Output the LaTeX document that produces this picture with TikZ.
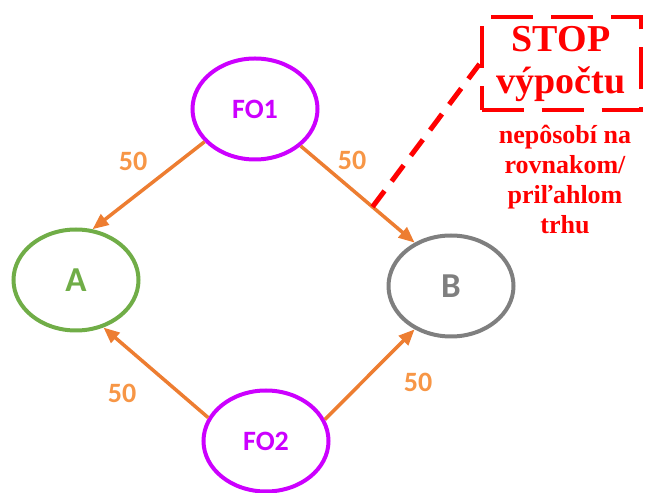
\documentclass[tikz,border=0pt]{standalone}
\usepackage{fontspec}
\setmainfont{Liberation Serif}
\newfontfamily\calibri{Carlito}
\usetikzlibrary{shapes.geometric,arrows.meta}
\definecolor{fialova}{HTML}{CC00FF}
\definecolor{zelena}{HTML}{70AD47}
\definecolor{seda}{HTML}{7F7F7F}
\definecolor{oranzova}{HTML}{ED7D31}
\definecolor{svetlooranzova}{HTML}{F79646}

\begin{document}
\begin{tikzpicture}[x=1pt,y=1pt,
    firma/.style={ellipse,draw,line width=4pt,minimum width=125pt,minimum height=101pt,inner sep=0pt,font=\calibri\bfseries\fontsize{28}{30}\selectfont},
    trh/.style={firma,font=\calibri\bfseries\fontsize{35}{40}\selectfont},
    tok/.style={draw=oranzova,line width=3.5pt,-{Triangle[length=16pt,width=13pt]}},
    mnozstvo/.style={text=svetlooranzova,font=\calibri\bfseries\fontsize{28}{30}\selectfont}]
\useasboundingbox (0,0) rectangle (647,492);
% firmy a trhy
\node[firma,draw=fialova,text=fialova] (fo1) at (255,383) {FO1};
\node[firma,draw=fialova,text=fialova] (fo2) at (266,51) {FO2};
\node[trh,draw=zelena,text=zelena] (a) at (76,212) {A};
\node[trh,draw=seda,text=seda] (b) at (451,206) {B};
% toky
\draw[tok] (fo1.213) -- (a.72);
\draw[tok] (fo1.321) -- coordinate[pos=0.63] (zlom) (b.130);
\draw[tok] (fo2.158) -- (a.300);
\draw[tok] (fo2.20) -- (b.230);
\node[mnozstvo] (m1) at (133,331) {50};
\node[mnozstvo] (m2) at (352,332) {50};
\node[mnozstvo] (m3) at (122,99) {50};
\node[mnozstvo] (m4) at (418,110) {50};
% stop
\node[draw=red,text=red,line width=4pt,dash pattern=on 42pt off 18pt,minimum width=159pt,minimum height=93pt,align=center,font=\bfseries\fontsize{38}{42}\selectfont] (stop) at (561,428) {STOP\\výpočtu};
\node[anchor=north,text=red,align=center,inner sep=0pt,font=\bfseries\fontsize{26}{30}\selectfont] (pozn) at (565,367) {nepôsobí na\\rovnakom/\\priľahlom\\trhu};
\draw[red,line width=5pt,dash pattern=on 20pt off 12pt] (zlom) -- (stop.west);
\end{tikzpicture}
\end{document}
